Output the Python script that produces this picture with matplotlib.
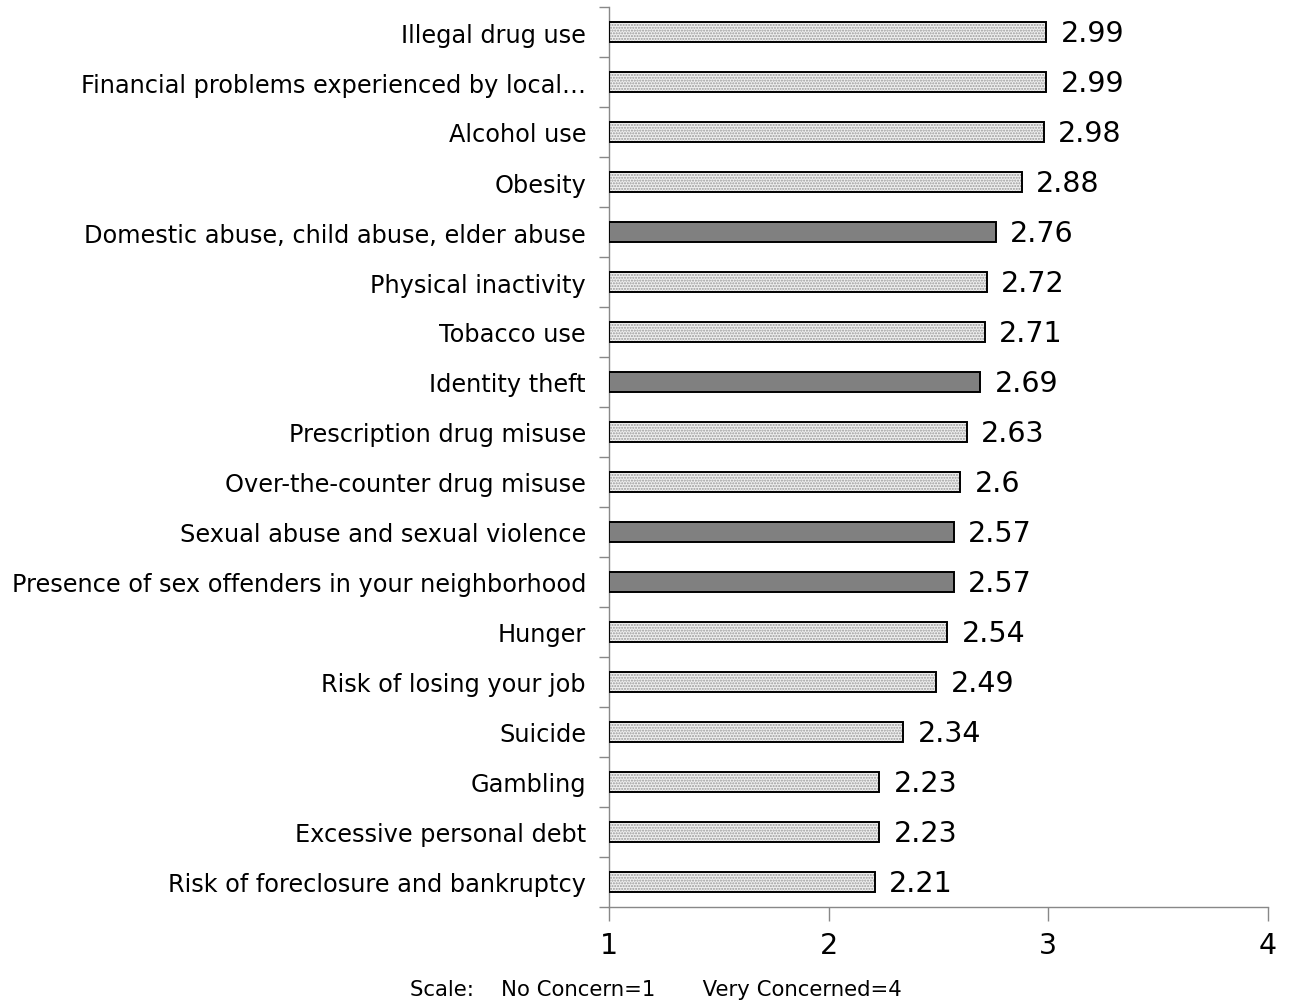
import matplotlib
matplotlib.use("Agg")
import matplotlib.pyplot as plt
import numpy as np

categories = [
    "Illegal drug use",
    "Financial problems experienced by local\u2026",
    "Alcohol use",
    "Obesity",
    "Domestic abuse, child abuse, elder abuse",
    "Physical inactivity",
    "Tobacco use",
    "Identity theft",
    "Prescription drug misuse",
    "Over-the-counter drug misuse",
    "Sexual abuse and sexual violence",
    "Presence of sex offenders in your neighborhood",
    "Hunger",
    "Risk of losing your job",
    "Suicide",
    "Gambling",
    "Excessive personal debt",
    "Risk of foreclosure and bankruptcy",
]
values = [2.99, 2.99, 2.98, 2.88, 2.76, 2.72, 2.71, 2.69, 2.63, 2.60,
          2.57, 2.57, 2.54, 2.49, 2.34, 2.23, 2.23, 2.21]
# Safety/crime items are drawn solid; health/financial items are dotted
solid = [False, False, False, False, True, False, False, True, False, False,
         True, True, False, False, False, False, False, False]
x_ticks = [1, 2, 3, 4]
value_labels = ["2.99", "2.99", "2.98", "2.88", "2.76", "2.72", "2.71", "2.69",
                "2.63", "2.6", "2.57", "2.57", "2.54", "2.49", "2.34", "2.23",
                "2.23", "2.21"]

plt.rcParams["font.family"] = ["DejaVu Sans"]

fig = plt.figure(figsize=(12.92, 10.04), dpi=100)
ax = fig.add_axes([609 / 1292, 1 - 908 / 1004, (1268 - 609) / 1292, 900 / 1004])

y = np.arange(len(categories))
widths = np.array(values) - 1
bar_h = 0.4

for yi, w, s in zip(y, widths, solid):
    if s:
        ax.barh(yi, w, left=1, height=bar_h, color="#808080",
                edgecolor="black", linewidth=1.4, zorder=3)
    else:
        ax.barh(yi, w, left=1, height=bar_h, color="#f0f0f0",
                edgecolor="#999999", hatch="......", linewidth=0, zorder=2)
        ax.barh(yi, w, left=1, height=bar_h, color="none",
                edgecolor="black", linewidth=1.4, zorder=3)

for yi, v, lab in zip(y, values, value_labels):
    ax.text(v + 0.065, yi + 0.03, lab, va="center", ha="left", fontsize=20.5,
            color="black")

ax.set_xlim(1, 4)
ax.set_ylim(len(categories) - 0.5, -0.5)
ax.set_xticks(x_ticks)
ax.set_xticklabels([str(t) for t in x_ticks], fontsize=20.5)
ax.tick_params(axis="x", direction="out", length=10, width=1, color="#888888",
               pad=7)

ax.set_yticks(y)
ax.set_yticklabels(categories, fontsize=17.3, va="center_baseline")
ax.tick_params(axis="y", which="major", length=0, pad=16.5)
ax.set_yticks(np.arange(-0.5, len(categories), 1), minor=True)
ax.tick_params(axis="y", which="minor", direction="out", length=7, width=1,
               color="#888888")

for side in ["top", "right"]:
    ax.spines[side].set_visible(False)
for side in ["left", "bottom"]:
    ax.spines[side].set_color("#888888")
    ax.spines[side].set_linewidth(1)

fig.text(656 / 1292, 1 - 990 / 1004,
         "Scale:    No Concern=1       Very Concerned=4",
         ha="center", va="center", fontsize=15.3)

fig.savefig("out.png", dpi=100, facecolor="white")
